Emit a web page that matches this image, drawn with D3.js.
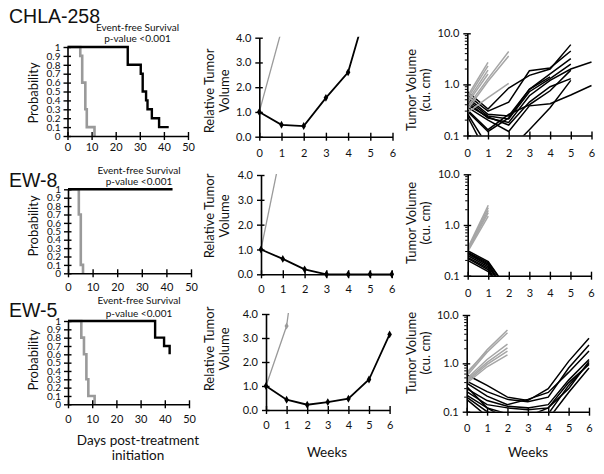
<!DOCTYPE html>
<html><head><meta charset="utf-8">
<script src="https://cdn.jsdelivr.net/npm/d3@7"></script>
<style>
body{margin:0;background:#fff}
svg{display:block}
text{font-family:Lato,"Open Sans",sans-serif;fill:#111}
.title{font-family:"Liberation Sans",Arial,sans-serif}
</style>
</head><body>
<svg id="chart" width="604" height="474"></svg>
<script>
// ---------------- DATA ----------------
const modelNames = ["CHLA-258", "EW-8", "EW-5"];
const kmTickDays = [0, 10, 20, 30, 40, 50];
const kmTickProb = [0, 0.1, 0.2, 0.3, 0.4, 0.5, 0.6, 0.7, 0.8, 0.9, 1];
const rtvTicks = [0, 1, 2, 3, 4];
const weekTicks = [0, 1, 2, 3, 4, 5, 6];
const volTicks = [0.1, 1, 10];
const efsLine1 = "Event-free Survival";
const efsLine2 = "p-value <0.001";

// Kaplan-Meier steps (days, survival probability)
const kmCHLA258CtrlDays = [0, 5.3, 6.1, 7.4, 8, 11.2];
const kmCHLA258CtrlProb = [1, 0.9, 0.6, 0.3, 0.1, 0];
const kmCHLA258TrtDays = [0, 25, 30.4, 31.2, 32.6, 33.2, 35, 38, 42];
const kmCHLA258TrtProb = [1, 0.8, 0.7, 0.5, 0.4, 0.3, 0.2, 0.1, 0.1];
const kmEW8CtrlDays = [0, 4.4, 5.2, 6.1];
const kmEW8CtrlProb = [1, 0.7, 0.1, 0];
const kmEW8TrtDays = [0, 42.5];
const kmEW8TrtProb = [1, 1];
const kmEW5CtrlDays = [0, 5.5, 6.6, 7.6, 8.4, 11];
const kmEW5CtrlProb = [1, 0.8, 0.6, 0.3, 0.1, 0];
const kmEW5TrtDays = [0, 36, 39.7, 42];
const kmEW5TrtProb = [1, 0.8, 0.7, 0.6];

// Median relative tumor volume by week
const rtvCHLA258CtrlWeeks = [0, 1];
const rtvCHLA258Ctrl = [1.0, 4.3];
const rtvCHLA258TrtWeeks = [0, 1, 2, 3, 4, 5];
const rtvCHLA258Trt = [1.0, 0.48, 0.43, 1.57, 2.6, 5.7];
const rtvEW8CtrlWeeks = [0, 1];
const rtvEW8Ctrl = [1.0, 5.3];
const rtvEW8TrtWeeks = [0, 1, 2, 3, 4, 5, 6];
const rtvEW8Trt = [1.0, 0.62, 0.2, 0.0, 0.0, 0.0, 0.0];
const rtvEW5CtrlWeeks = [0, 1, 2];
const rtvEW5Ctrl = [1.0, 3.5, 9.8];
const rtvEW5TrtWeeks = [0, 1, 2, 3, 4, 5, 6];
const rtvEW5Trt = [1.0, 0.43, 0.22, 0.33, 0.47, 1.27, 3.15];

// Individual tumor volumes (cu. cm), weeks 0..6, null = no measurement
const volCHLA258Ctrl = [
  [0.58, 2.7], [0.52, 2.3], [0.46, 1.9], [0.42, 1.6],
  [0.36, 1.3, 4.4], [0.32, 1.15, 3.6], [0.28, 0.55, 1.05]
];
const volCHLA258Trt = [
  [0.72, 0.33, 0.85, 1.5, 2.0, 6.0],
  [0.62, 0.30, 0.45, 1.85, 2.1, 4.5],
  [0.55, 0.26, 0.24, 0.8, 1.6, 3.2],
  [0.50, 0.24, 0.21, 0.72, 1.3, 2.5],
  [0.45, 0.22, 0.18, 0.6, 1.2, 2.0, 2.75],
  [0.40, 0.23, 0.16, 0.45, 0.9, 1.3],
  [0.36, 0.20, 0.12, 0.38, 0.42, 0.62, 0.95],
  [0.32, 0.13, 0.26, 0.40, 0.75, 1.9],
  [0.27, 0.06, 0.05, 0.13, 0.35, 1.2],
  [0.24, 0.04],
  [0.30, 0.12, 0.22, 0.8, 1.4]
];
const volEW8Ctrl = [[0.35, 2.45], [0.33, 2.2], [0.32, 1.95], [0.31, 1.75], [0.30, 1.5]];
const volEW8Trt = [
  [0.31, 0.19, 0.05], [0.29, 0.18, 0.05], [0.28, 0.17, 0.04], [0.27, 0.16, 0.04],
  [0.25, 0.15, 0.04], [0.23, 0.14, 0.03], [0.22, 0.13, 0.03], [0.20, 0.12, 0.03]
];
const volEW5Ctrl = [
  [0.60, 1.9, 4.9], [0.55, 1.7, 4.3], [0.48, 1.2, 2.5], [0.45, 1.05, 2.1],
  [0.42, 0.95, 1.8], [0.39, 0.85, 1.5], [0.65, 1.8]
];
const volEW5Trt = [
  [0.58, 0.35, 0.2, 0.17, 0.3, 1.1, 3.3],
  [0.43, 0.26, 0.18, 0.16, 0.2, 0.8, 2.4],
  [0.39, 0.21, 0.14, 0.18, 0.25, 0.65, 1.8],
  [0.30, 0.17, 0.13, 0.12, 0.14, 0.45, 1.2],
  [0.26, 0.14, 0.12, 0.11, 0.12, 0.3, 1.1],
  [0.22, 0.12, 0.09, 0.08, 0.12, 0.4, 0.95],
  [0.20, 0.10, 0.07, 0.05, 0.07, 0.25, 0.8],
  [0.18, 0.08, 0.05],
  [0.33, 0.12, 0.07, 0.06, 0.09, 0.35, 1.0]
];

// ---------------- LAYOUT ----------------
const L = {
  title: [{x: 9, y: 23}, {x: 9, y: 187}, {x: 9, y: 317}],
  efs: [{x: 137.5, y1: 31, y2: 42}, {x: 139, y1: 174, y2: 185}, {x: 139, y1: 304, y2: 317}],
  km: [
    {x0: 67.5, x1: 188, yT: 47, yB: 136, pad: 14.5, lab: 93},
    {x0: 68, x1: 191, yT: 189.3, yB: 273.3, pad: 18, lab: 226},
    {x0: 68, x1: 189, yT: 321, yB: 404.3, pad: 19, lab: 360}
  ],
  rtv: [
    {x0: 259.3, x1: 392.5, yT: 37.7, yB: 136.7, pad: 20, lab: 91},
    {x0: 261, x1: 391.8, yT: 175, yB: 274.3, pad: 19, lab: 216},
    {x0: 266, x1: 389.6, yT: 314, yB: 410, pad: 19, lab: 349}
  ],
  vol: [
    {x0: 467.3, x1: 591.5, yT: 33.3, yB: 135.5, pad: 21, lab: 90},
    {x0: 467.7, x1: 591, yT: 174.3, yB: 275.7, pad: 21, lab: 223},
    {x0: 466.7, x1: 589, yT: 315, yB: 411.7, pad: 20, lab: 353}
  ]
};

const svg = d3.select("#chart");
const GRAY = "#9a9a9a";
let clipId = 0;

function makeClip(x0, x1, yT, yB) {
  const id = "clip" + (clipId++);
  svg.append("clipPath").attr("id", id).append("rect")
    .attr("x", x0).attr("y", yT - 1).attr("width", x1 - x0 + 2).attr("height", yB - yT + 1);
  return "url(#" + id + ")";
}

function styleAxis(g, fs) {
  g.select(".domain").attr("stroke", "#000").attr("stroke-width", 1.6);
  g.selectAll(".tick line").attr("stroke", "#000").attr("stroke-width", 1.4);
  g.selectAll("text").attr("font-family", "Lato, 'Open Sans', sans-serif")
    .attr("font-size", fs).attr("fill", "#111");
}

function xAxis(x, b, ticks, fs) {
  const g = svg.append("g").attr("transform", `translate(0,${b.yB})`)
    .call(d3.axisBottom(x).tickValues(ticks).tickSizeInner(4).tickSizeOuter(0).tickFormat(d3.format("d")));
  g.selectAll(".tick line").attr("y1", -4).attr("y2", 4);
  g.selectAll(".tick text").attr("y", b.pad).attr("dy", null);
  styleAxis(g, fs);
  return g;
}

function yAxis(y, b, ticks, fmt, fs) {
  const g = svg.append("g").attr("transform", `translate(${b.x0},0)`)
    .call(d3.axisLeft(y).tickValues(ticks).tickSizeInner(4).tickSizeOuter(0).tickFormat(fmt).tickPadding(4));
  g.selectAll(".tick line").attr("x1", -4).attr("x2", 3.5);
  g.selectAll(".tick text").attr("x", -8);
  styleAxis(g, fs);
  return g;
}

function rotLabel(lines, xs, yc, fs) {
  lines.forEach((t, i) => {
    svg.append("text").attr("transform", `translate(${xs[i]},${yc}) rotate(-90)`)
      .attr("text-anchor", "middle").attr("font-size", fs).text(t);
  });
}

// ---------- Kaplan-Meier ----------
function drawKM(i, ctrlD, ctrlP, trtD, trtP) {
  const b = L.km[i];
  const x = d3.scaleLinear().domain([0, 50]).range([b.x0, b.x1]);
  const y = d3.scaleLinear().domain([0, 1]).range([b.yB, b.yT]);
  const line = d3.line().x(d => x(d[0])).y(d => y(d[1])).curve(d3.curveStepAfter);
  svg.append("path").datum(d3.zip(ctrlD, ctrlP)).attr("d", line)
    .attr("fill", "none").attr("stroke", GRAY).attr("stroke-width", 2.6);
  svg.append("path").datum(d3.zip(trtD, trtP)).attr("d", line)
    .attr("fill", "none").attr("stroke", "#000").attr("stroke-width", 2.4);
  xAxis(x, b, kmTickDays, 11);
  const ga = yAxis(y, b, kmTickProb, d => d === 0 || d === 1 ? d3.format("d")(d) : d3.format(".1f")(d), 10);
  ga.selectAll(".tick text").attr("x", -7);
  rotLabel(["Probability"], [37.5], b.lab, 13);
  svg.append("text").attr("x", L.efs[i].x).attr("y", L.efs[i].y1).attr("text-anchor", "middle")
    .attr("font-size", 10).text(efsLine1);
  svg.append("text").attr("x", L.efs[i].x).attr("y", L.efs[i].y2).attr("text-anchor", "middle")
    .attr("font-size", 10).text(efsLine2);
  svg.append("text").attr("class", "title").attr("x", L.title[i].x).attr("y", L.title[i].y)
    .attr("font-size", 19.5).text(modelNames[i]);
}

// ---------- Relative tumor volume ----------
function drawRTV(i, cW, cV, tW, tV) {
  const b = L.rtv[i];
  const x = d3.scaleLinear().domain([0, 6]).range([b.x0, b.x1]);
  const y = d3.scaleLinear().domain([0, 4]).range([b.yB, b.yT]);
  const clip = makeClip(b.x0 - 4, b.x1 + 4, b.yT, b.yB + 4);
  const line = d3.line().x(d => x(d[0])).y(d => y(d[1]));
  const g = svg.append("g").attr("clip-path", clip);
  const cd = d3.zip(cW, cV), td = d3.zip(tW, tV);
  g.append("path").datum(cd).attr("d", line).attr("fill", "none").attr("stroke", GRAY).attr("stroke-width", 1.3);
  g.selectAll(".cm").data(cd).join("path").attr("d", d3.symbol(d3.symbolDiamond, 14))
    .attr("transform", d => `translate(${x(d[0])},${y(d[1])})`).attr("fill", GRAY);
  g.append("path").datum(td).attr("d", line).attr("fill", "none").attr("stroke", "#000").attr("stroke-width", 1.8);
  g.selectAll(".tm").data(td).join("path").attr("d", d3.symbol(d3.symbolDiamond, 18))
    .attr("transform", d => `translate(${x(d[0])},${y(d[1])})`).attr("fill", "#000");
  xAxis(x, b, weekTicks, 11);
  yAxis(y, b, rtvTicks, d3.format(".1f"), 11);
  rotLabel(["Relative Tumor", "Volume"], [214, 229], b.lab, 13);
}

// ---------- Individual tumor volumes (log) ----------
function drawVol(i, ctrl, trt) {
  const b = L.vol[i];
  const x = d3.scaleLinear().domain([0, 6]).range([b.x0, b.x1]);
  const y = d3.scaleLog().domain([0.1, 10]).range([b.yB, b.yT]);
  const clip = makeClip(b.x0, b.x1 + 3, b.yT, b.yB);
  const line = d3.line().defined(d => d != null).x((d, j) => x(j)).y(d => y(d));
  const g = svg.append("g").attr("clip-path", clip);
  g.selectAll(".t").data(trt).join("path").attr("d", line)
    .attr("fill", "none").attr("stroke", "#000").attr("stroke-width", 1.5);
  g.selectAll(".c").data(ctrl).join("path").attr("d", line)
    .attr("fill", "none").attr("stroke", "#a6a6a6").attr("stroke-width", 1.5);
  xAxis(x, b, weekTicks, 11);
  yAxis(y, b, volTicks, d3.format(".1f"), 11);
  const minor = [];
  [0.1, 1].forEach(dec => { for (let k = 2; k <= 9; k++) minor.push(dec * k); });
  svg.append("g").selectAll("line").data(minor).join("line")
    .attr("x1", b.x0 - 2.5).attr("x2", b.x0).attr("y1", d => y(d)).attr("y2", d => y(d))
    .attr("stroke", "#000").attr("stroke-width", 1);
  rotLabel(["Tumor Volume", "(cu. cm)"], [416, 429.5], b.lab, 13);
}

drawKM(0, kmCHLA258CtrlDays, kmCHLA258CtrlProb, kmCHLA258TrtDays, kmCHLA258TrtProb);
drawKM(1, kmEW8CtrlDays, kmEW8CtrlProb, kmEW8TrtDays, kmEW8TrtProb);
drawKM(2, kmEW5CtrlDays, kmEW5CtrlProb, kmEW5TrtDays, kmEW5TrtProb);

drawRTV(0, rtvCHLA258CtrlWeeks, rtvCHLA258Ctrl, rtvCHLA258TrtWeeks, rtvCHLA258Trt);
drawRTV(1, rtvEW8CtrlWeeks, rtvEW8Ctrl, rtvEW8TrtWeeks, rtvEW8Trt);
drawRTV(2, rtvEW5CtrlWeeks, rtvEW5Ctrl, rtvEW5TrtWeeks, rtvEW5Trt);

drawVol(0, volCHLA258Ctrl, volCHLA258Trt);
drawVol(1, volEW8Ctrl, volEW8Trt);
drawVol(2, volEW5Ctrl, volEW5Trt);

// bottom axis titles
svg.append("text").attr("x", 138).attr("y", 445).attr("text-anchor", "middle").attr("font-size", 13.5).text("Days post-treatment");
svg.append("text").attr("x", 138).attr("y", 459.5).attr("text-anchor", "middle").attr("font-size", 13.5).text("initiation");
svg.append("text").attr("x", 327).attr("y", 457).attr("text-anchor", "middle").attr("font-size", 13.5).text("Weeks");
svg.append("text").attr("x", 528).attr("y", 457).attr("text-anchor", "middle").attr("font-size", 13.5).text("Weeks");
</script>
</body></html>
